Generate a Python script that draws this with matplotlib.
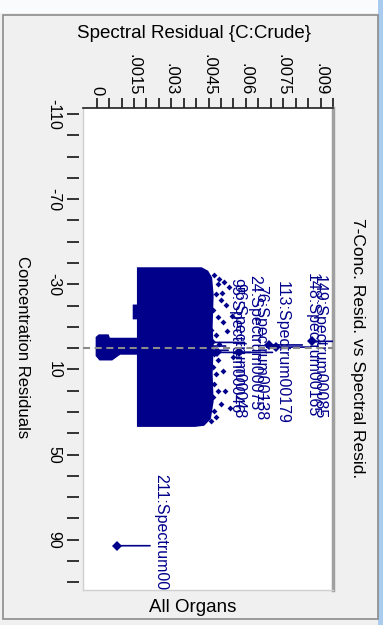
import numpy as np
import matplotlib.pyplot as plt
from matplotlib.patches import Rectangle
from matplotlib.lines import Line2D

# ---------------------------------------------------------------
# data
# ---------------------------------------------------------------

# outline of the saturated cloud of samples (spectral resid, conc resid)
cloud_spec = [0.00166, 0.00421, 0.00445, 0.00460, 0.00466, 0.00462, 0.00466,
              0.00462, 0.00466, 0.00455, 0.00430, 0.00395, 0.00166, 0.00166,
              0.00093, 0.00061, 0.00013, 0.0, 0.0, 0.00010, 0.00045, 0.00050,
              0.00166, 0.00166, 0.00149, 0.00149, 0.00166]
cloud_conc = [-37.5, -37.5, -36.0, -33.0, -25.0, -10.0, 0.0,
              12.0, 25.0, 33.0, 36.0, 36.5, 36.5, 2.6,
              2.6, 5.3, 5.3, 3.5, -5.0, -6.0, -6.0, -4.4,
              -4.4, -14.0, -14.0, -20.0, -20.0]

# sparse samples on the right edge of the cloud
fringe_spec = [0.00473, 0.00493, 0.00486, 0.00513, 0.00533, 0.00480, 0.00500,
               0.00520, 0.00466, 0.00486, 0.00506, 0.00460, 0.00480, 0.00493,
               0.00473, 0.00486, 0.00466, 0.00480, 0.00506, 0.00473, 0.00486,
               0.00466, 0.00500, 0.00473, 0.00480, 0.00460, 0.00525, 0.00545,
               0.00515, 0.00535, 0.00505, 0.00550]
fringe_conc = [-34.2, -32.7, -30.3, -31.1, -28.7, -25.6, -22.5,
               -20.1, -17.8, -14.6, -12.3, -8.4, -6.0, -2.1,
               2.6, 5.8, 8.9, 12.0, 10.5, 16.7, 19.9,
               23.0, 26.2, 29.3, 32.4, 34.0, -8.0, -15.0,
               20.0, 28.0, -26.0, 4.0]

# labelled outliers
label_spec = [0.00081, 0.00693, 0.00721, 0.00865, 0.00573, 0.00461, 0.00485,
              0.00385, 0.00395]
label_conc = [92.8, -1.5, -0.5, -3.2, 2.0, -2.7, 2.0, -1.0, 1.0]
label_text = ["211:Spectrum00221", "148:Spectrum00165", "149:Spectrum00085",
              "112:Spectrum00134", "113:Spectrum00179", "24:Spectrum00075",
              "76:Spectrum00138", "95:Spectrum00046", "96:Spectrum00048"]

x_ticks = [0, 0.0015, 0.003, 0.0045, 0.006, 0.0075, 0.009]
x_tick_labels = ['0', '.0015', '.003', '.0045', '.006', '.0075', '.009']
y_ticks = [-110, -70, -30, 10, 50, 90]

# ---------------------------------------------------------------
# figure
# ---------------------------------------------------------------
W, H = 383, 625
navy = '#00008b'
plt.rcParams['font.family'] = ['Liberation Sans', 'DejaVu Sans']

fig = plt.figure(figsize=(W / 100, H / 100), dpi=100)
fig.patch.set_facecolor('#f0f0f0')


def px(x, y):
    return x / W, 1 - y / H


# window chrome
fig.patches.append(Rectangle(px(0, 13), 1, 13 / H, transform=fig.transFigure,
                             facecolor='#fafbfd', edgecolor='none', zorder=0))
fig.patches.append(Rectangle(px(378, H), 5 / W, 1, transform=fig.transFigure,
                             facecolor='#a9cbee', edgecolor='none', zorder=0))
fig.patches.append(Rectangle(px(3, 619), 375 / W, 604 / H, transform=fig.transFigure,
                             facecolor='none', edgecolor='#8c8c8c', lw=1.2, zorder=0))

ax = fig.add_axes([83 / W, 1 - 590 / H, 250 / W, 482 / H])
ax.set_facecolor('white')

# spines first (moving a spine resets the ticks)
ax.spines['left'].set_position(('outward', 3))
ax.spines['left'].set_visible(False)
ax.spines['top'].set_color('#202020')
ax.spines['top'].set_linewidth(1.2)
ax.spines['right'].set_color('#a0a0a0')
ax.spines['right'].set_linewidth(2.5)
ax.spines['bottom'].set_color('#d0d0d0')
ax.spines['bottom'].set_linewidth(1)
ax.add_line(Line2D([0, 0], [0, 1], transform=ax.transAxes, color='#d0d0d0',
                   lw=1, clip_on=False))

ax.fill(cloud_spec, cloud_conc, facecolor=navy, edgecolor=navy, lw=1.5, zorder=3)
ax.plot(fringe_spec, fringe_conc, 'D', color=navy, ms=3, mew=0, zorder=3)
ax.plot(label_spec, label_conc, 'D', color=navy, ms=5, mew=0, zorder=4)

for sx, cy, txt in zip(label_spec, label_conc, label_text):
    ann = ax.annotate(txt, (sx, cy), xytext=(36, 0), textcoords='offset pixels',
                      rotation=-90, ha='left', va='center', fontsize=11.5,
                      color=navy, clip_on=True, zorder=5,
                      arrowprops=dict(arrowstyle='-', color=navy, lw=1.2,
                                      shrinkA=0, shrinkB=0))
    ann.arrow_patch.set_clip_path(ax.patch)

ax.axhline(0, color='#8a8a8a', lw=1.5, dashes=(3.4, 2.2), zorder=6)

ax.set_xlim(-0.00055, 0.00945)
ax.set_ylim(113.6, -112.8)

# top axis: spectral residual
ax.xaxis.tick_top()
ax.set_xticks(x_ticks)
ax.set_xticklabels(x_tick_labels)
ax.set_xticks(np.arange(0, 0.0096, 0.0005), minor=True)
ax.tick_params(axis='x', which='both', direction='out', length=7.5, width=1.1,
               pad=1.5, colors='black')
ax.tick_params(axis='x', which='major', labelsize=12, labelrotation=-90)

# left axis: concentration residual
ax.set_yticks(y_ticks)
ax.set_yticklabels([str(v) for v in y_ticks], va='center')
ax.set_yticks(np.arange(-110, 111, 10), minor=True)
ax.tick_params(axis='y', which='both', direction='out', length=8.6, width=1.1,
               pad=4, colors='black')
ax.tick_params(axis='y', which='major', labelsize=11.5, labelrotation=-90)

fig.text(*px(194, 33), 'Spectral Residual {C:Crude}', ha='center', va='center',
         fontsize=13.5)
fig.text(*px(193, 607), 'All Organs', ha='center', va='center', fontsize=13.5)
fig.text(*px(22, 347), 'Concentration Residuals', ha='center', va='center',
         rotation=-90, fontsize=12)
fig.text(*px(358, 348), '7-Conc. Resid. vs Spectral Resid.', ha='center',
         va='center', rotation=-90, fontsize=12.5)

fig.savefig('out.png', dpi=100, facecolor=fig.get_facecolor())
